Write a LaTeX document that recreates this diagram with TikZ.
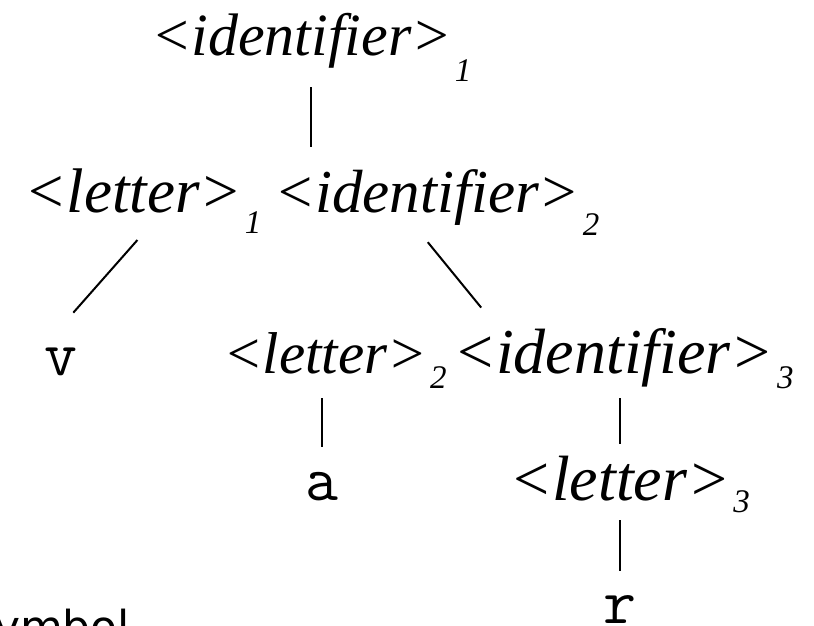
\documentclass[tikz,border=0pt]{standalone}
\usepackage{fontspec}
\setmainfont{Liberation Serif}
\newfontfamily\notefont{DejaVu Sans}
% nonterminal with its index set low on the right
\newcommand{\nonterm}[3][18pt]{\textit{<#2>}\kern3pt\raisebox{-#1}{\fontsize{33}{33}\selectfont\itshape #3}}

\begin{document}
\begin{tikzpicture}[x=1pt,y=-1pt,line width=2pt,
    sym/.style={inner sep=0pt,anchor=base west,font=\fontsize{#1}{72}\selectfont},
    sym/.default=61,
    term/.style={inner sep=0pt,anchor=base,font=\fontsize{64}{72}\selectfont\ttfamily}]
    \useasboundingbox (0,0) rectangle (814,625);
    \clip (0,0) rectangle (814,625);
    % parse tree for "var"
    \node[sym=60] (id1) at (150,55) {\nonterm[26pt]{identifier}{1}};
    \node[sym=63] (l1) at (23,212) {\nonterm[21pt]{letter}{1}};
    \node[sym] (id2) at (273,212) {\nonterm[23pt]{identifier}{2}};
    \node[term] (v) at (61,375) {v};
    \node[sym=59] (l2) at (222,373) {\nonterm[15pt]{letter}{2}};
    \node[sym=64] (id3) at (452,373) {\nonterm[15pt]{identifier}{3}};
    \node[term] (a) at (322,500) {a};
    \node[sym=64] (l3) at (508,500) {\nonterm[12pt]{letter}{3}};
    \node[term] (r) at (620,623) {r};
    \node[anchor=base east,inner sep=0pt,font=\notefont\fontsize{44}{48}\selectfont] (note) at (131,642) {symbol};
    % branches
    \draw[shorten <=5pt,shorten >=21pt] (id1.south) -- (id1.south |- id2.north);
    \draw[shorten <=8pt,shorten >=45pt] (l1.south) -- (v.north west);
    \draw[shorten <=8pt,shorten >=25pt] ([xshift=-14pt]id2.south) -- ([xshift=45pt]id3.north west);
    \draw[shorten <=24pt,shorten >=9pt] (a.north) -- (a.north |- l2.south);
    \draw[shorten <=9pt,shorten >=11pt] (r.north |- id3.south) -- (r.north |- l3.north);
    \draw[shorten <=7pt,shorten >=23pt] (r.north |- l3.south) -- (r.north);
\end{tikzpicture}
\end{document}
